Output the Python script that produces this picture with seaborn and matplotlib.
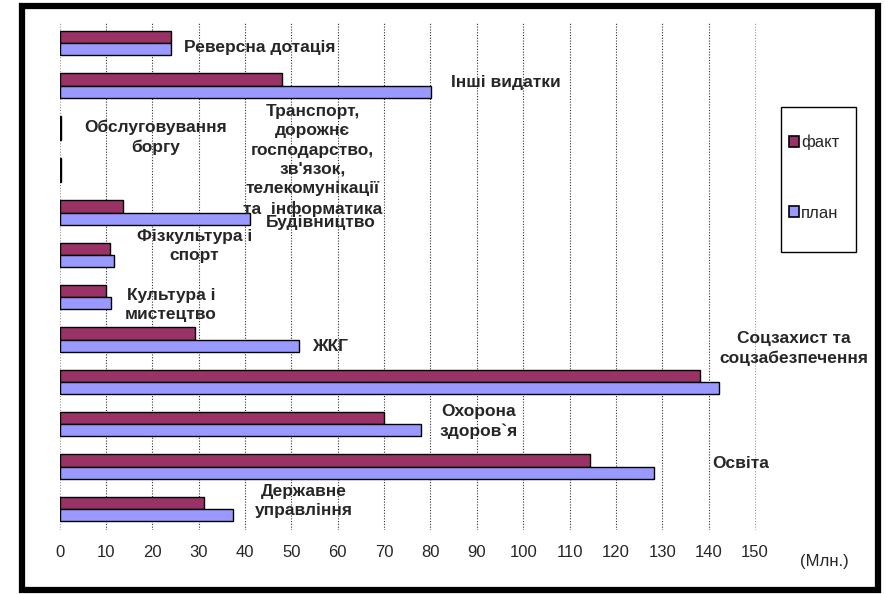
import matplotlib
matplotlib.use("Agg")
import matplotlib.pyplot as plt
import seaborn as sns
import pandas as pd
from matplotlib.patches import Rectangle, Patch
from matplotlib.transforms import blended_transform_factory

categories = ["Реверсна дотація", "Інші видатки", "Обслуговування боргу",
              "Транспорт, дорожнє господарство, зв'язок, телекомунікації та інформатика",
              "Будівництво", "Фізкультура і спорт", "Культура і мистецтво", "ЖКГ",
              "Соцзахист та соцзабезпечення", "Охорона здоров`я", "Освіта",
              "Державне управління"]
label_text = ["Реверсна дотація", "Інші видатки", "Обслуговування\nборгу",
              "Транспорт,\nдорожнє\nгосподарство,\nзв'язок,\nтелекомунікації\nта  інформатика",
              "Будівництво", "Фізкультура і\nспорт", "Культура і\nмистецтво", "ЖКГ",
              "Соцзахист та\nсоцзабезпечення", "Охорона\nздоров`я", "Освіта",
              "Державне\nуправління"]
fact = [24.1, 48.0, 0.3, 0.3, 13.8, 10.9, 10.0, 29.3, 138.1, 70.0, 114.5, 31.1]
plan = [24.1, 80.2, 0.3, 0.3, 41.1, 11.7, 11.2, 51.7, 142.2, 78.0, 128.1, 37.5]
series = ["факт", "план"]
ticks = [0, 10, 20, 30, 40, 50, 60, 70, 80, 90, 100, 110, 120, 130, 140, 150]
unit = "(Млн.)"

# label anchor positions (layout)
label_pos = [(43.2, 0.11), (96.3, 0.94), (20.8, 2.23), (54.6, 2.77), (56.3, 4.23),
             (29.1, 4.79), (24.0, 6.19), (58.4, 7.17), (158.4, 7.22), (90.4, 8.94),
             (146.8, 9.92), (52.7, 10.81)]

colors = {"факт": "#993366", "план": "#9999FF"}

df = pd.DataFrame({
    "cat": categories * 2,
    "value": fact + plan,
    "series": ["факт"] * len(fact) + ["план"] * len(plan),
})

sns.set_style("white")
plt.rcParams["font.family"] = ["Liberation Sans", "DejaVu Sans"]

fig = plt.figure(figsize=(8.86, 5.94), dpi=100)
ax = fig.add_axes([59.5 / 886, 64 / 594, 811.5 / 886, 508 / 594])

sns.barplot(data=df, y="cat", x="value", hue="series", order=categories,
            hue_order=series, palette=colors, orient="h", width=0.57,
            edgecolor="black", linewidth=1.0, ax=ax, legend=False, saturation=1)

ax.set_xlim(0, 175)
ax.set_ylim(11.5, -0.5)
ax.set_xticks(ticks)
ax.set_xticklabels([str(t) for t in ticks], fontsize=12)
ax.set_yticks([])
ax.set_xlabel("")
ax.set_ylabel("")
ax.tick_params(axis="x", length=0, pad=11)
for s in ax.spines.values():
    s.set_visible(False)
for t in ticks:
    c = "#999999" if t in (0, 150) else "#333333"
    ax.axvline(t, color=c, linestyle=(0, (1, 1.5)), linewidth=0.8, zorder=0)

for txt, (x, y) in zip(label_text, label_pos):
    ax.text(x, y, txt, ha="center", va="center", fontsize=12.5, fontweight="bold",
            linespacing=1.35, zorder=5)

trans = blended_transform_factory(ax.transData, ax.transAxes)
ax.text(165, -0.048, unit, transform=trans, ha="center", va="top", fontsize=12)

# legend box
fig.add_artist(Rectangle((781 / 886, 1 - 252 / 594), 75 / 886, 145 / 594,
                         transform=fig.transFigure, fill=False, edgecolor="black",
                         linewidth=1.0))
handles = [Patch(facecolor=colors[s], edgecolor="black", linewidth=1.2) for s in series]
fig.legend(handles, series, loc="upper left", bbox_to_anchor=(789 / 886, 1 - 135 / 594),
           frameon=False, fontsize=12, handlelength=0.6, handleheight=0.6,
           handletextpad=0.12, labelspacing=3.3, borderpad=0, borderaxespad=0)

# outer border
fig.add_artist(Rectangle((21.5 / 886, 1 - 590 / 594), 856 / 886, 584 / 594,
                         transform=fig.transFigure, fill=False, edgecolor="black",
                         linewidth=4.5))

fig.savefig("out.png", dpi=100)
